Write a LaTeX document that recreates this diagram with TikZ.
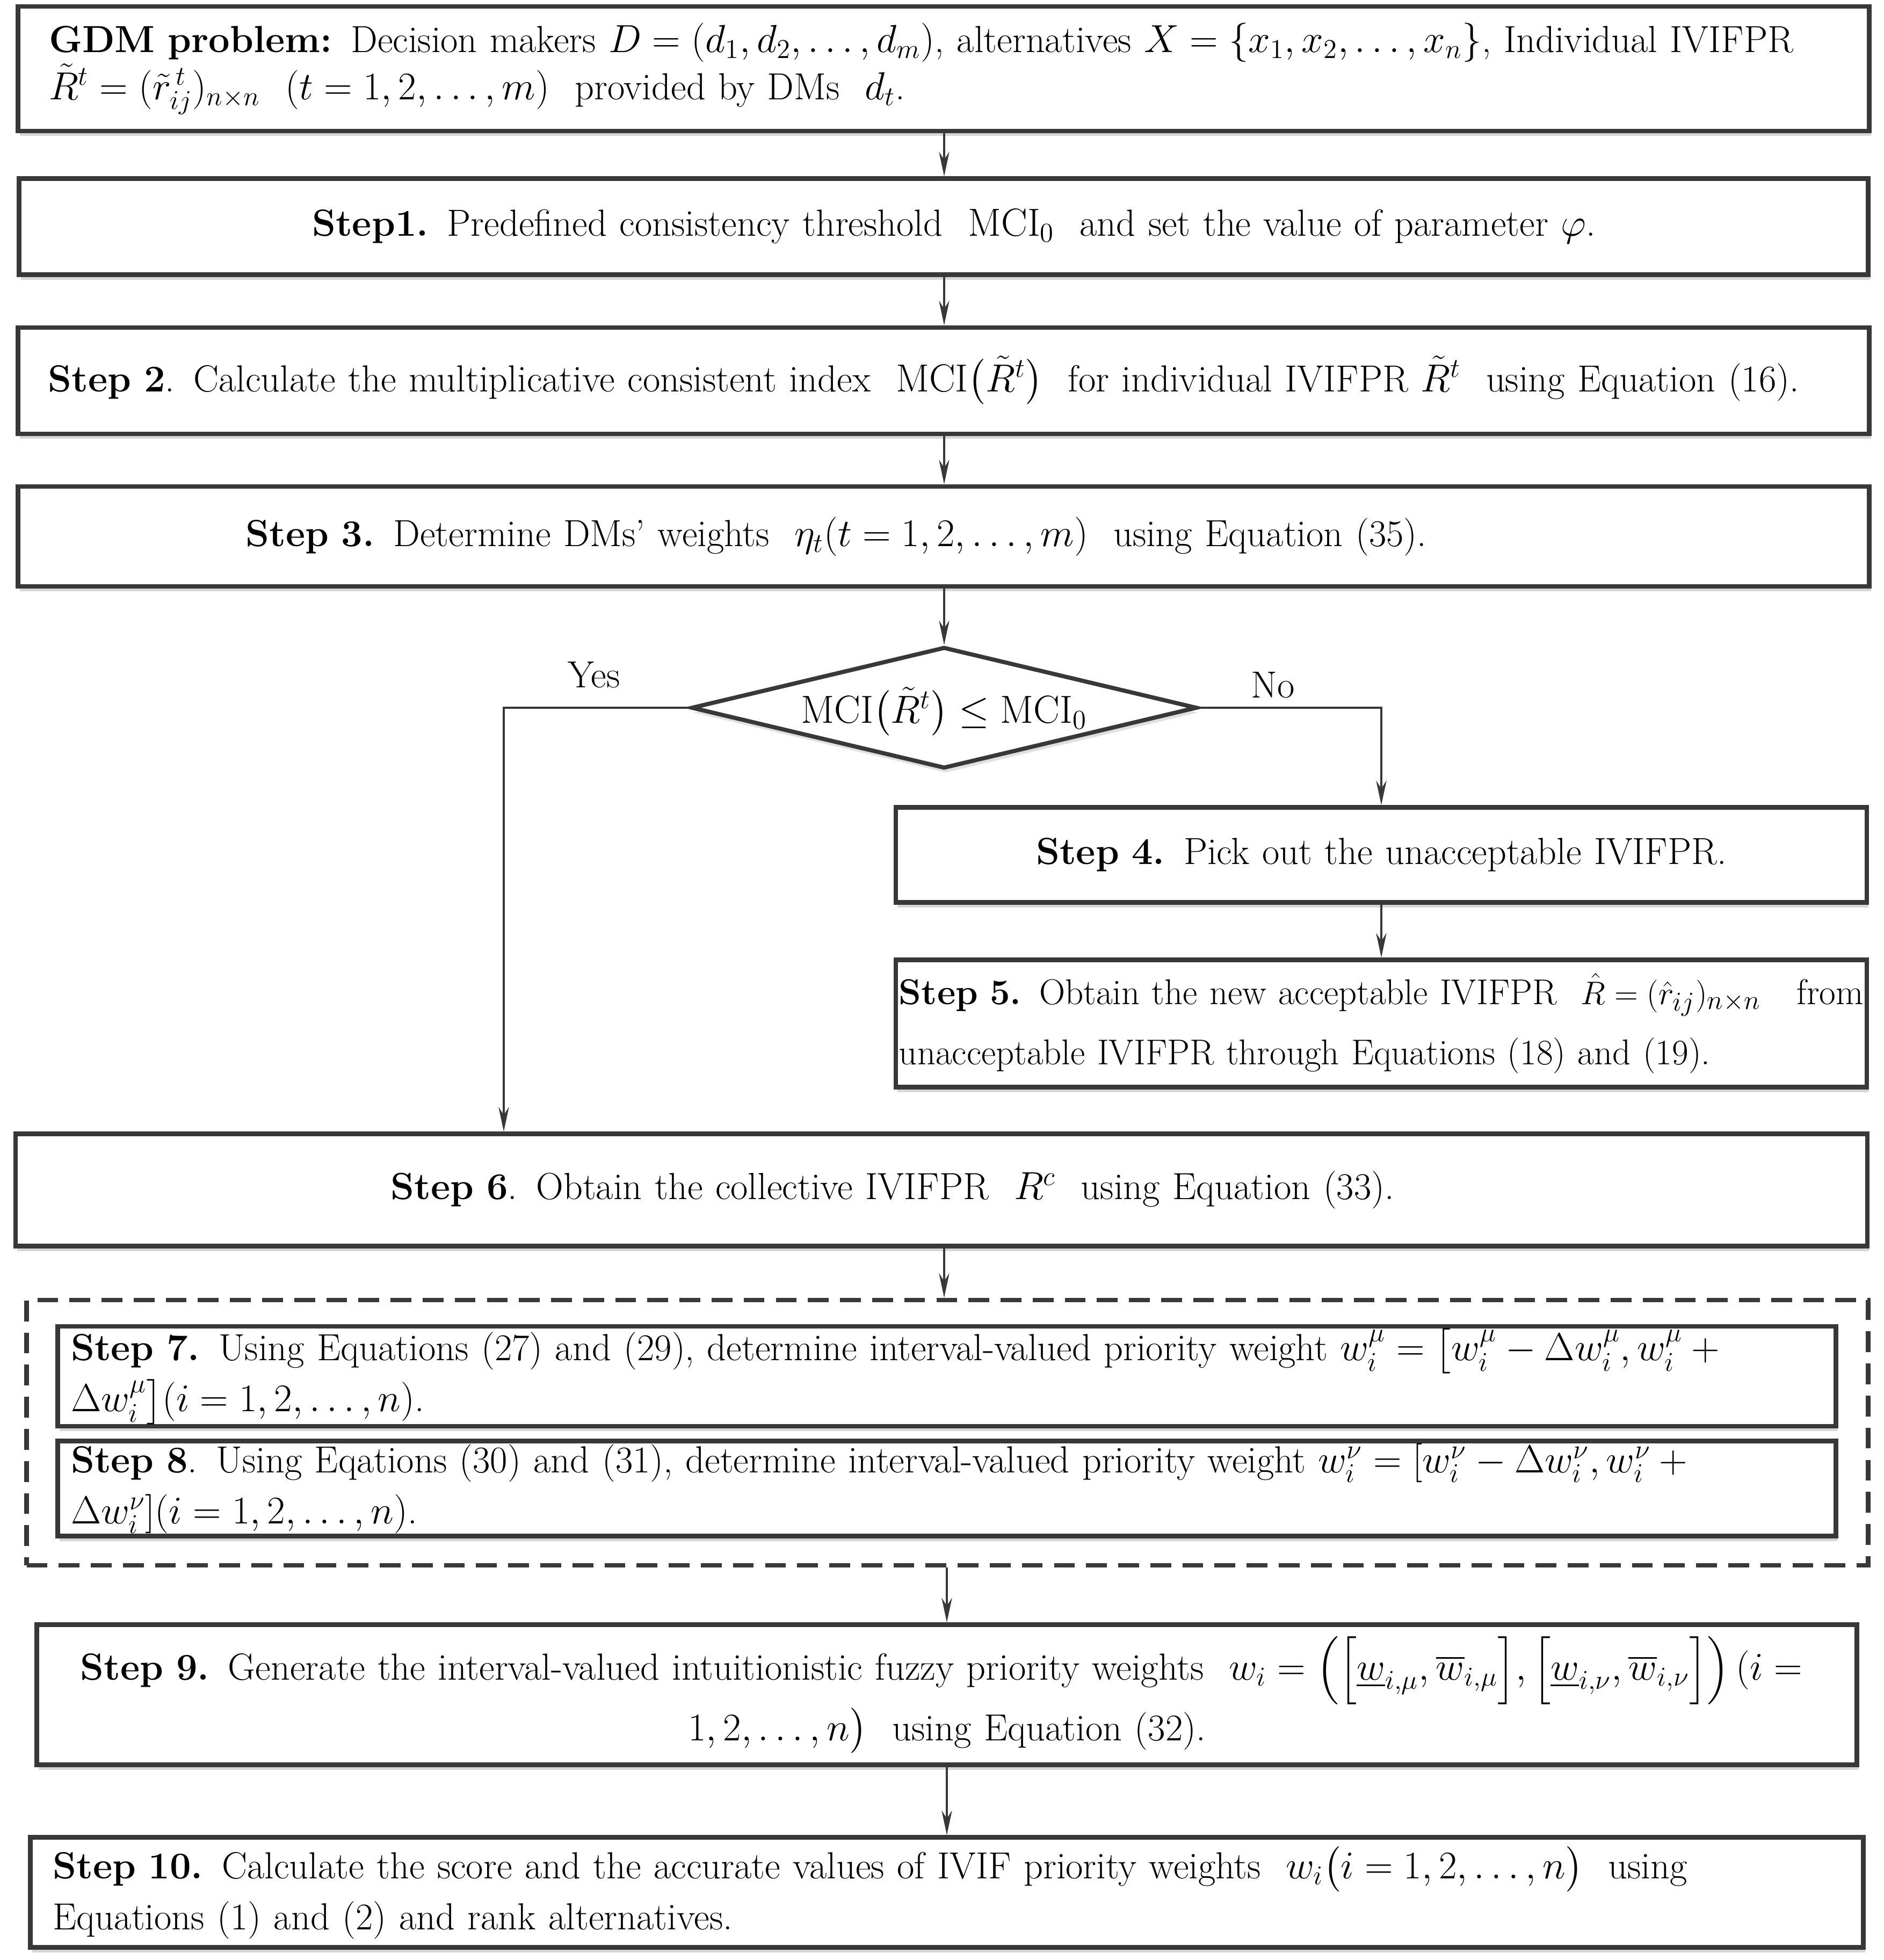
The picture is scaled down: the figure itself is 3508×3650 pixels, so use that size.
\documentclass[tikz,border=0pt]{standalone}
\usepackage{amsmath,amssymb}
\usetikzlibrary{arrows.meta,shadows,shapes.geometric}
\begin{document}
\begin{tikzpicture}[x=0.01cm,y=-0.01cm,
  font=\fontsize{20}{27}\selectfont,
  box/.style={draw=black!78, line width=2.4pt, rectangle, inner sep=0pt, fill=white,
    drop shadow={shadow xshift=0.03cm, shadow yshift=-0.09cm, fill=black!16, opacity=1}},
  dia/.style={draw=black!78, line width=2.2pt, diamond, inner sep=0pt, fill=white,
    drop shadow={shadow xshift=0.03cm, shadow yshift=-0.09cm, fill=black!12, opacity=1}},
  dbox/.style={draw=black!78, line width=2.4pt, dash pattern=on 11pt off 6pt, rectangle, inner sep=0pt},
  con/.style={draw=black!78, line width=0.9pt, -{Stealth[length=13pt,width=5.5pt]}},
  lbl/.style={inner sep=0pt},
]
\useasboundingbox (0,0) rectangle (3508,3650);

\node[box, font=\fontsize{20}{24}\selectfont, minimum width=34.45cm, minimum height=2.32cm, text width=33.3cm, align=left] (b0) at (1757,128)
 {\textbf{GDM problem:} Decision makers \mbox{$D=(d_1,d_2,\dots,d_m)$}, alternatives \mbox{$X=\{x_1,x_2,\dots,x_n\}$}, Individual IVIFPR\\
  \mbox{$\tilde{R}^t=(\tilde{r}_{ij}^{\,t})_{n\times n}$} \ \mbox{$(t=1,2,\dots,m)$} \ provided by DMs \ $d_t$.};

\node[box, minimum width=34.41cm, minimum height=1.79cm, text width=34cm, align=center] (b1) at (1757,422)
 {\hspace*{0.38cm}\textbf{Step1.} Predefined consistency threshold \ $\mathrm{MCI}_0$ \ and set the value of parameter $\varphi$.};

\node[box, minimum width=34.45cm, minimum height=1.98cm, text width=34.2cm, align=center] (b2) at (1757,709)
 {\hspace*{-0.74cm}\textbf{Step 2}. Calculate the multiplicative consistent index \ $\mathrm{MCI}\big(\tilde{R}^t\big)$ \ for individual IVIFPR $\tilde{R}^t$ \ using Equation (16).};

\node[box, minimum width=34.45cm, minimum height=1.86cm, text width=34cm, align=center] (b3) at (1757,999)
 {\hspace*{-4cm}\textbf{Step 3.} Determine DMs' weights \ \mbox{$\eta_t(t=1,2,\dots,m)$} \ using Equation (35).};

\node[dia, minimum width=9.41cm, minimum height=2.26cm] (d) at (1758,1318) {};
\node[lbl] (dt) at (1758,1326) {$\mathrm{MCI}\big(\tilde{R}^t\big)\le\mathrm{MCI}_0$};

\node[box, minimum width=18.07cm, minimum height=1.77cm, text width=17.6cm, align=center] (b4) at (2572,1592)
 {\textbf{Step 4.} Pick out the unacceptable IVIFPR.};

\node[box, font=\fontsize{19}{32}\selectfont, minimum width=18.07cm, minimum height=2.37cm, text width=17.95cm, align=left] (b5) at (2572,1906)
 {\textbf{Step 5.} Obtain the new acceptable IVIFPR \ \mbox{$\hat{R}=(\hat{r}_{ij})_{n\times n}$}\hfill from\\
  unacceptable IVIFPR through Equations (18) and (19).};

\node[box, minimum width=34.46cm, minimum height=2.09cm, text width=34cm, align=center] (b6) at (1753,2216)
 {\hspace*{-1.82cm}\textbf{Step 6}. Obtain the collective IVIFPR \ $R^c$ \ using Equation (33).};

\node[dbox, minimum width=34.27cm, minimum height=4.94cm] (dash) at (1764,2668) {};

\node[box, minimum width=33.09cm, minimum height=1.86cm, text width=32.6cm, align=left] (b7) at (1763,2563)
 {\textbf{Step 7.} Using Equations (27) and (29), determine interval-valued priority weight \mbox{$w_i^{\mu}=\big[w_i^{\mu}-\Delta w_i^{\mu},w_i^{\mu}+{}$}\\
  \mbox{$\Delta w_i^{\mu}\big](i=1,2,\dots,n)$}.};

\node[box, minimum width=33.09cm, minimum height=1.77cm, text width=32.6cm, align=left] (b8) at (1763,2772)
 {\textbf{Step 8}. Using Eqations (30) and (31), determine interval-valued priority weight \mbox{$w_i^{\nu}=[w_i^{\nu}-\Delta w_i^{\nu},w_i^{\nu}+{}$}\\
  \mbox{$\Delta w_i^{\nu}](i=1,2,\dots,n)$}.};

\node[box, font=\fontsize{20}{31}\selectfont, minimum width=33.87cm, minimum height=2.61cm, text width=33.4cm, align=center] (b9) at (1763,3156)
 {\textbf{Step 9.} Generate the interval-valued intuitionistic fuzzy priority weights \ \mbox{$w_i=\Big(\Big[\underline{w}_{i,\mu},\overline{w}_{i,\mu}\Big],\Big[\underline{w}_{i,\nu},\overline{w}_{i,\nu}\Big]\Big)\,(i={}$}\\
  \mbox{$1,2,\dots,n\big)$} \ using Equation (32).};

\node[box, minimum width=34.11cm, minimum height=2.05cm, text width=33.27cm, align=left] (b10) at (1763,3524)
 {\textbf{Step 10.} Calculate the score and the accurate values of IVIF priority weights \ \mbox{$w_i\big(i=1,2,\dots,n\big)$} \ using\\
  Equations (1) and (2) and rank alternatives.};

\coordinate (yesx) at (938,1318);
\coordinate (nox) at (2572,1318);

\draw[con] (b0.south -| d) -- (b1.north -| d);
\draw[con] (b1.south -| d) -- (b2.north -| d);
\draw[con] (b2.south -| d) -- (b3.north -| d);
\draw[con] (b3.south -| d) -- (d.north);
\draw[con] (d.west) -- (yesx) -- (yesx |- b6.north);
\draw[con] (d.east) -- (nox) -- (b4.north);
\draw[con] (b4.south) -- (b5.north);
\draw[con] (b6.south -| d) -- (dash.north -| d);
\draw[con] (dash.south -| b9) -- (b9.north);
\draw[con] (b9.south) -- (b10.north);

\node[lbl] (yes) at (1106,1257) {Yes};
\node[lbl] (no) at (2370,1276) {No};
\end{tikzpicture}
\end{document}
